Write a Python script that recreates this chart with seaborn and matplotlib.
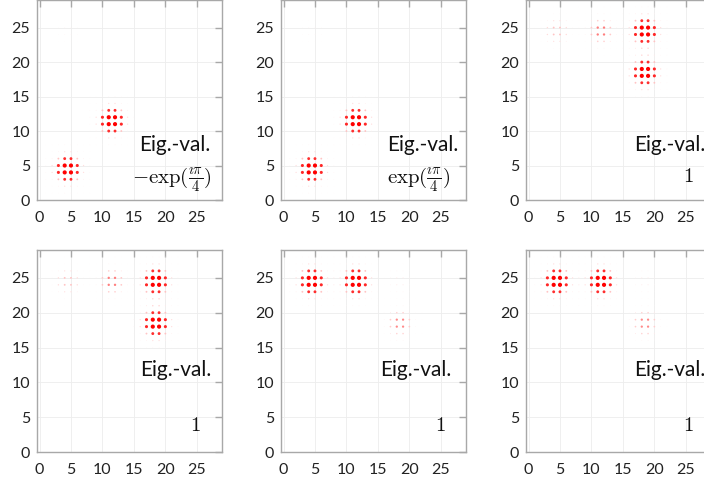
import pandas as pd
import seaborn as sns
import matplotlib.pyplot as plt
from matplotlib.colors import LinearSegmentedColormap

# lattice offsets of a blob around its centre
offsets = [-3.5, -2.5, -1.5, -0.5, 0.5, 1.5, 2.5, 3.5]

# amplitude of one blob on its 8x8 neighbourhood (rows = dy, cols = dx)
blob = [
    [0.01, 0.01, 0.02, 0.03, 0.03, 0.02, 0.01, 0.01],
    [0.01, 0.02, 0.04, 0.10, 0.10, 0.04, 0.02, 0.01],
    [0.02, 0.04, 0.20, 0.48, 0.48, 0.20, 0.04, 0.02],
    [0.03, 0.10, 0.55, 1.00, 1.00, 0.55, 0.10, 0.03],
    [0.03, 0.10, 0.55, 1.00, 1.00, 0.55, 0.10, 0.03],
    [0.02, 0.04, 0.20, 0.48, 0.48, 0.20, 0.04, 0.02],
    [0.01, 0.02, 0.04, 0.10, 0.10, 0.04, 0.02, 0.01],
    [0.01, 0.01, 0.02, 0.03, 0.03, 0.02, 0.01, 0.01],
]

centres = {
    "A": (4.5, 4.5),
    "B": (11.5, 11.5),
    "C": (18.5, 18.5),
    "D": (4.5, 24.5),
    "E": (11.5, 24.5),
    "F": (18.5, 24.5),
}

# weight of every blob in each of the six panels
panel_weights = [
    {"A": 1.0, "B": 1.0, "D": 0.03},
    {"A": 1.0, "B": 1.0, "D": 0.03},
    {"C": 1.0, "F": 1.0, "D": 0.20, "E": 0.32},
    {"C": 1.0, "F": 1.0, "D": 0.20, "E": 0.32},
    {"D": 1.0, "E": 1.0, "C": 0.30, "F": 0.06},
    {"D": 1.0, "E": 1.0, "C": 0.30, "F": 0.06},
]

eig_values = [
    r"$-\exp(\frac{\imath\pi}{4})$",
    r"$\exp(\frac{\imath\pi}{4})$",
    r"$1$", r"$1$", r"$1$", r"$1$",
]

ticks = [0, 5, 10, 15, 20, 25]

sns.set_theme(style="white")
plt.rcParams["font.family"] = ["Lato", "DejaVu Sans"]
plt.rcParams["mathtext.fontset"] = "cm"

cmap = LinearSegmentedColormap.from_list(
    "dots", [(0, "#fffafa"), (0.2, "#ffc4c4"), (0.45, "#ff3030"), (1, "#ff0000")]
)

fig = plt.figure(figsize=(7.04, 4.84), dpi=100)
W, H = 704, 484

# axes boxes in pixels
col_left = [37, 281, 526]
row_top = [0, 250]
row_h = [200, 202]

# label layout per panel: (x of "Eig.-val.", ha, y of it, x of value, ha, y of value)
label_pos = [
    (0.935, "right", 0.275, 0.945, "right", 0.10),
    (0.957, "right", 0.275, 0.914, "right", 0.10),
    (0.584, "left", 0.275, 0.876, "center", 0.12),
    (0.557, "left", 0.406, 0.854, "center", 0.134),
    (0.535, "left", 0.406, 0.860, "center", 0.134),
    (0.584, "left", 0.406, 0.876, "center", 0.134),
]

for i, weights in enumerate(panel_weights):
    r, c = divmod(i, 3)
    ax = fig.add_axes([
        col_left[c] / W,
        (H - row_top[r] - row_h[r]) / H,
        185 / W,
        row_h[r] / H,
    ])

    amp = {}
    for name, w in weights.items():
        cx, cy = centres[name]
        for iy, dy in enumerate(offsets):
            for ix, dx in enumerate(offsets):
                key = (cx + dx, cy + dy)
                amp[key] = amp.get(key, 0) + w * blob[iy][ix]
    df = pd.DataFrame(
        [(k[0], k[1], v) for k, v in amp.items() if v > 0.004],
        columns=["x", "y", "amp"],
    )

    ax.grid(True, color="#ededed", lw=0.6)
    ax.set_axisbelow(True)
    sns.scatterplot(
        data=df, x="x", y="y", hue="amp", size="amp",
        palette=cmap, hue_norm=(0, 1), sizes=(0, 9), size_norm=(0, 1),
        linewidth=0, legend=False, ax=ax,
    )

    ax.set_xlim(-0.4, 29)
    ax.set_ylim(0, 29)
    ax.set_xticks(ticks)
    ax.set_yticks(ticks)
    ax.set_xlabel("")
    ax.set_ylabel("")
    ax.tick_params(axis="both", direction="in", top=True, right=True,
                   length=5, width=1, color="#a8a8a8", labelsize=11.5,
                   labelcolor="#222222")
    ax.tick_params(axis="x", pad=8)
    ax.tick_params(axis="y", pad=5)
    for s in ax.spines.values():
        s.set_color("#a8a8a8")
        s.set_linewidth(1)

    ex, eha, ey, vx, vha, vy = label_pos[i]
    ax.text(ex, ey, "Eig.-val.", transform=ax.transAxes, ha=eha, va="center",
            fontsize=15, color="#111111")
    ax.text(vx, vy, eig_values[i], transform=ax.transAxes, ha=vha, va="center",
            fontsize=15, color="#111111")

fig.savefig("out.png", dpi=100)
